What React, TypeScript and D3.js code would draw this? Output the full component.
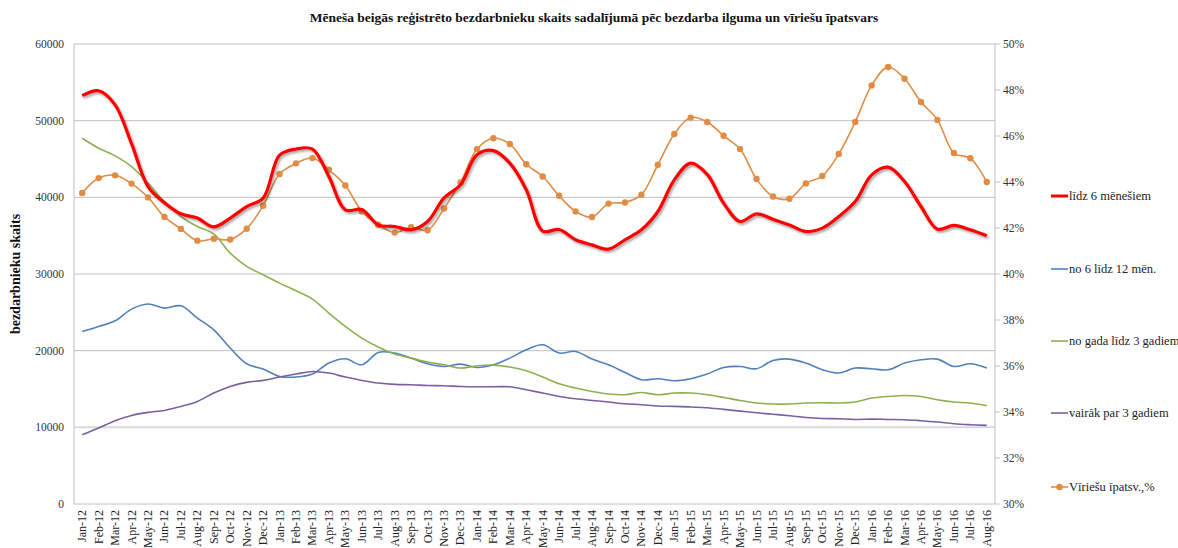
import React from "react";
import * as d3 from "d3";

const svgWidth = 1178;
const svgHeight = 548;
const margin = { left: 74, right: 183, top: 44, bottom: 44 };
const font = "Liberation Serif, Times New Roman, serif";

const months = [
  "Jan-12", "Feb-12", "Mar-12", "Apr-12", "May-12", "Jun-12", "Jul-12", "Aug-12", "Sep-12", "Oct-12", "Nov-12", "Dec-12",
  "Jan-13", "Feb-13", "Mar-13", "Apr-13", "May-13", "Jun-13", "Jul-13", "Aug-13", "Sep-13", "Oct-13", "Nov-13", "Dec-13",
  "Jan-14", "Feb-14", "Mar-14", "Apr-14", "May-14", "Jun-14", "Jul-14", "Aug-14", "Sep-14", "Oct-14", "Nov-14", "Dec-14",
  "Jan-15", "Feb-15", "Mar-15", "Apr-15", "May-15", "Jun-15", "Jul-15", "Aug-15", "Sep-15", "Oct-15", "Nov-15", "Dec-15",
  "Jan-16", "Feb-16", "Mar-16", "Apr-16", "May-16", "Jun-16", "Jul-16", "Aug-16",
];

const upTo6 = [
  53270, 53900, 52060, 47000, 41400, 39300, 37850, 37300, 36150, 37300, 38800, 39900,
  45500, 46300, 46300, 42700, 38370, 38400, 36400, 36200, 35760, 36850, 39930, 41630,
  45540, 46100, 44460, 40980, 35600, 35800, 34460, 33800, 33250, 34460, 35760, 38150,
  42280, 44460, 43000, 39240, 36850, 37850, 37150, 36400, 35540, 35980, 37500, 39450,
  42930, 43930, 42060, 38800, 35850, 36330, 35760, 34980,
];

const from6to12 = [
  22500, 23150, 23900, 25420, 26080, 25550, 25850, 24250, 22720, 20340, 18290, 17600,
  16640, 16560, 16950, 18380, 18940, 18160, 19770, 19690, 19030, 18290, 17940, 18250,
  17810, 18160, 19030, 20120, 20770, 19690, 19900, 18900, 18160, 17160, 16210, 16340,
  16080, 16340, 16950, 17810, 17940, 17640, 18720, 18900, 18380, 17510, 17080, 17730,
  17640, 17510, 18380, 18810, 18900, 17940, 18290, 17730,
];

const year1to3 = [
  47710, 46410, 45410, 44010, 41850, 39450, 37500, 36190, 35240, 32720, 31000, 29900,
  28810, 27810, 26730, 24900, 23160, 21640, 20470, 19560, 19030, 18510, 18160, 17730,
  18030, 18120, 17860, 17380, 16560, 15680, 15120, 14680, 14340, 14250, 14550, 14250,
  14470, 14470, 14250, 13900, 13510, 13170, 13040, 13040, 13170, 13210, 13170, 13300,
  13820, 14030, 14160, 14030, 13600, 13300, 13170, 12820,
];

const over3 = [
  9030, 9910, 10860, 11550, 11950, 12200, 12730, 13380, 14470, 15330, 15860, 16120,
  16560, 16950, 17290, 17080, 16560, 16120, 15780, 15600, 15550, 15460, 15420, 15330,
  15290, 15290, 15290, 14900, 14470, 14030, 13730, 13510, 13300, 13080, 12950, 12780,
  12730, 12650, 12560, 12340, 12120, 11900, 11700, 11510, 11290, 11160, 11120, 11030,
  11070, 11030, 10990, 10860, 10690, 10470, 10340, 10250,
];

const maleShare = [
  43.52, 44.17, 44.29, 43.93, 43.33, 42.48, 41.96, 41.45, 41.53, 41.5, 41.97, 42.97,
  44.35, 44.81, 45.04, 44.53, 43.85, 42.72, 42.14, 41.8, 42.03, 41.9, 42.85, 43.98,
  45.43, 45.9, 45.65, 44.77, 44.24, 43.4, 42.72, 42.48, 43.06, 43.11, 43.45, 44.75,
  46.09, 46.8, 46.61, 46.01, 45.43, 44.13, 43.37, 43.27, 43.94, 44.26, 45.22, 46.61,
  48.2, 49.0, 48.49, 47.48, 46.7, 45.26, 45.03, 44.0,
];

const leftTicks = [0, 10000, 20000, 30000, 40000, 50000, 60000];
const rightTicks = [30, 32, 34, 36, 38, 40, 42, 44, 46, 48, 50];

const series = [
  { name: "līdz 6 mēnešiem", values: upTo6, color: "#ff0000", width: 3.2, shadow: true },
  { name: "no 6 līdz 12 mēn.", values: from6to12, color: "#4f81bd", width: 1.6 },
  { name: "no gada līdz 3 gadiem", values: year1to3, color: "#8db04e", width: 1.6 },
  { name: "vairāk par 3 gadiem", values: over3, color: "#7b5fa0", width: 1.6 },
];

const orange = "#e08c45";

const plotRight = svgWidth - margin.right;
const plotBottom = svgHeight - margin.bottom;

const x = d3
  .scaleBand<string>()
  .domain(months)
  .range([margin.left, plotRight]);
const xc = (m: string) => (x(m) ?? 0) + x.bandwidth() / 2;

const yLeft = d3.scaleLinear().domain([0, 60000]).range([plotBottom, margin.top]);
const yRight = d3.scaleLinear().domain([30, 50]).range([plotBottom, margin.top]);

const curve = d3.curveCatmullRom.alpha(0.5);

const leftLine = (values: number[]) =>
  d3
    .line<number>()
    .x((_, i) => xc(months[i]))
    .y((d) => yLeft(d))
    .curve(curve)(values) || "";

const rightLine =
  d3
    .line<number>()
    .x((_, i) => xc(months[i]))
    .y((d) => yRight(d))
    .curve(curve)(maleShare) || "";

const legendX = 1051;
const legendY = [196, 269, 341, 413, 487];

export default function App() {
  return (
    <svg
      width={svgWidth}
      height={svgHeight}
      style={{ position: "absolute", left: 0, top: 0, background: "#fff", fontFamily: font }}
    >
      <defs>
        <filter id="shadow" x="-5%" y="-5%" width="110%" height="120%">
          <feDropShadow dx="1.5" dy="2" stdDeviation="1.2" floodColor="#000" floodOpacity="0.35" />
        </filter>
      </defs>

      <text
        x={594}
        y={22}
        textAnchor="middle"
        fontWeight="bold"
        fontSize={13.5}
        fill="#111"
      >
        Mēneša beigās reģistrēto bezdarbnieku skaits sadalījumā pēc bezdarba ilguma un vīriešu īpatsvars
      </text>

      {leftTicks.map((t) => (
        <g key={`lt${t}`}>
          {t > 0 && (
            <line
              x1={margin.left}
              x2={plotRight}
              y1={yLeft(t)}
              y2={yLeft(t)}
              stroke={t === 10000 ? "#d9d9d9" : "#bfbfbf"}
              strokeWidth={t === 10000 ? 2 : 1}
            />
          )}
          <text x={64} y={yLeft(t) + 4} textAnchor="end" fontSize={11.5} fill="#333">
            {t}
          </text>
        </g>
      ))}

      <line x1={margin.left} x2={margin.left} y1={margin.top} y2={plotBottom} stroke="#bfbfbf" />
      <line x1={plotRight} x2={plotRight} y1={margin.top} y2={plotBottom} stroke="#bfbfbf" />
      <line x1={margin.left} x2={plotRight} y1={plotBottom} y2={plotBottom} stroke="#bfbfbf" />

      {rightTicks.map((t) => (
        <g key={`rt${t}`}>
          <line x1={plotRight} x2={plotRight + 5} y1={yRight(t)} y2={yRight(t)} stroke="#bfbfbf" />
          <text x={plotRight + 8} y={yRight(t) + 4} fontSize={11.5} fill="#333">
            {t}%
          </text>
        </g>
      ))}

      {months.map((m) => (
        <text
          key={m}
          transform={`translate(${xc(m) + 4},${plotBottom + 6}) rotate(-90)`}
          textAnchor="end"
          fontSize={12}
          fill="#222"
        >
          {m}
        </text>
      ))}

      <text
        transform={`translate(20,${(margin.top + plotBottom) / 2}) rotate(-90)`}
        textAnchor="middle"
        fontWeight="bold"
        fontSize={14}
        fill="#111"
      >
        bezdarbnieku skaits
      </text>

      {series.slice(1).map((s) => (
        <path key={s.name} d={leftLine(s.values)} fill="none" stroke={s.color} strokeWidth={s.width} />
      ))}

      <path d={rightLine} fill="none" stroke={orange} strokeWidth={1.6} />
      {maleShare.map((v, i) => (
        <circle key={`m${i}`} cx={xc(months[i])} cy={yRight(v)} r={3.2} fill={orange} />
      ))}

      <path
        d={leftLine(upTo6)}
        fill="none"
        stroke="#ff0000"
        strokeWidth={3.2}
        filter="url(#shadow)"
      />

      {series.map((s, i) => (
        <g key={`lg${i}`} transform={`translate(${legendX},${legendY[i]})`}>
          <line x1={0} x2={17} y1={0} y2={0} stroke={s.color} strokeWidth={s.shadow ? 3 : 1.6} />
          <text x={18} y={4} fontSize={12.5} fill="#222">
            {s.name}
          </text>
        </g>
      ))}
      <g transform={`translate(${legendX},${legendY[4]})`}>
        <line x1={0} x2={17} y1={0} y2={0} stroke={orange} strokeWidth={1.6} />
        <circle cx={8.5} cy={0} r={3.2} fill={orange} />
        <text x={18} y={4} fontSize={12.5} fill="#222">
          Vīriešu īpatsv.,%
        </text>
      </g>
    </svg>
  );
}
